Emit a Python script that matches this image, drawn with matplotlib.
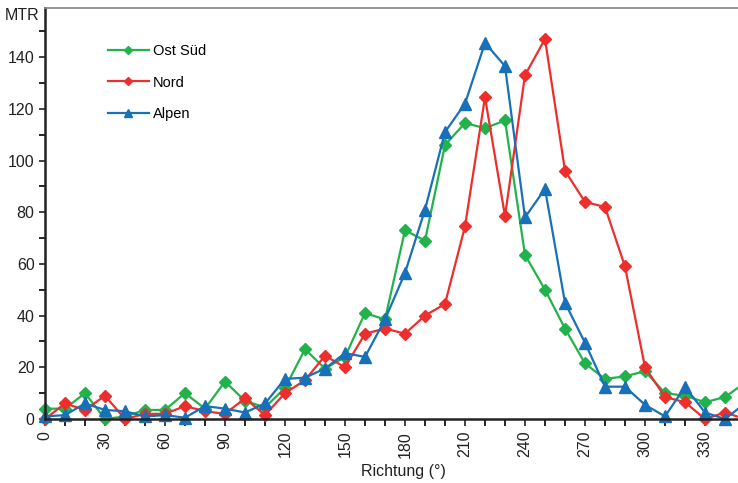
import numpy as np
import matplotlib.pyplot as plt

plt.rcParams['font.family'] = ['Liberation Sans', 'DejaVu Sans']

richtung = np.arange(0, 360, 10)
ost_sued = [4, 4, 10, 0, 1, 3.5, 3.5, 10, 4, 14.5, 7, 4.5, 12, 27, 19.5, 24, 41, 38.5,
            73, 69, 106, 114.5, 112.5, 115.5, 63.5, 50, 35, 21.5, 15.5, 16.5, 18.5, 10,
            9, 6.5, 8.5, 14]
nord = [0, 6, 3.5, 9, 0, 2, 2, 5, 3, 2, 8, 1.5, 10, 15, 24.5, 20, 33, 35,
        33, 40, 44.5, 74.5, 124.5, 78.5, 133, 147, 96, 84, 82, 59, 20, 8.5,
        6.5, 0, 2.5, 0]
alpen = [1, 1.5, 6, 3.5, 3, 1, 1.5, 0.5, 5, 4, 2.5, 6, 15.5, 16, 19.5, 25.5, 24, 38.5,
         56.5, 81, 111, 122, 145.5, 136.5, 78, 89, 45, 29.5, 12.5, 12.5, 5.5, 1,
         12.5, 2.5, 0, 6]

fig = plt.figure(figsize=(7.38, 4.83), dpi=100)
ax = fig.add_axes([45/738, 1-419/483, 1-45/738, (419-8)/483])

ax.plot(richtung, ost_sued, color='#22b24c', marker='D', markersize=6, lw=1.6,
        label='Ost Süd', clip_on=False)
ax.plot(richtung, nord, color='#ee2d2d', marker='D', markersize=6, lw=1.6,
        label='Nord', clip_on=False)
ax.plot(richtung, alpen, color='#1770b8', marker='^', markersize=8.5, lw=1.6,
        label='Alpen', clip_on=False)

ax.set_xlim(0, 346.5)
ax.set_ylim(0, 159)
ax.set_xticks(np.arange(0, 331, 30))
ax.set_xticks(np.arange(0, 346, 10), minor=True)
ax.set_yticks(np.arange(0, 141, 20))
ax.set_yticks(np.arange(0, 159, 10), minor=True)
ax.tick_params(axis='x', labelrotation=90, labelsize=11.5, length=5, width=1.2, colors='#222222')
ax.tick_params(axis='x', which='minor', length=5, width=1.2)
ax.tick_params(axis='y', labelsize=11.5, length=4, width=1.2, colors='#222222')
ax.tick_params(axis='y', which='minor', length=4, width=1.2)

for s in ['left', 'bottom']:
    ax.spines[s].set_linewidth(1.8)
    ax.spines[s].set_color('#222222')
ax.spines['right'].set_visible(False)
ax.spines['top'].set_color('#888888')
ax.spines['top'].set_linewidth(1.2)

ax.set_xlabel('Richtung (°)', fontsize=11.5, color='#222222')
ax.xaxis.set_label_coords(0.517, -0.11)
fig.text(5/738, 1-15/483, 'MTR', fontsize=11.5, color='#222222', va='center')

ax.legend(loc='upper left', bbox_to_anchor=(0.08, 0.93), frameon=False,
          fontsize=10.5, handlelength=2.8, labelspacing=1.2, markerscale=0.7,
          borderpad=0, handletextpad=0.3)

fig.savefig('out.png', dpi=100)
